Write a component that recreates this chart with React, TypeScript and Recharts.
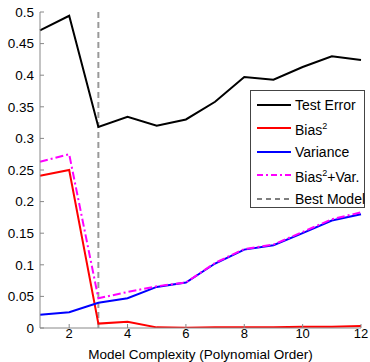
import React from 'react';
import { LineChart, Line, XAxis, YAxis, ReferenceLine } from 'recharts';

const orders = [1, 2, 3, 4, 5, 6, 7, 8, 9, 10, 11, 12];
const testError = [0.471, 0.494, 0.318, 0.334, 0.320, 0.330, 0.358, 0.397, 0.393, 0.413, 0.430, 0.424];
const bias2 = [0.241, 0.250, 0.007, 0.010, 0.001, 0.0005, 0.001, 0.001, 0.001, 0.002, 0.002, 0.003];
const variance = [0.021, 0.025, 0.040, 0.047, 0.065, 0.072, 0.102, 0.124, 0.131, 0.150, 0.170, 0.180];
const biasVar = [0.263, 0.275, 0.047, 0.057, 0.066, 0.072, 0.103, 0.125, 0.132, 0.152, 0.172, 0.183];
const bestModel = 3;
const xTicks = [2, 4, 6, 8, 10, 12];
const yTicks = [0, 0.05, 0.1, 0.15, 0.2, 0.25, 0.3, 0.35, 0.4, 0.45, 0.5];

const data = orders.map((o, i) => ({
  order: o,
  test: testError[i],
  bias: bias2[i],
  variance: variance[i],
  bv: biasVar[i],
}));

const FONT = '"Liberation Sans", Arial, sans-serif';

const XTick = (props: any) => {
  const { x, y, payload } = props;
  return (
    <g>
      <line x1={x} x2={x} y1={y - 1} y2={y - 5} stroke="#888" strokeWidth={1} />
      <text x={x} y={y} dy="0.71em" textAnchor="middle" fontSize={13} fill="#000" fontFamily={FONT}>
        {payload.value}
      </text>
    </g>
  );
};

const YTick = (props: any) => {
  const { x, y, payload } = props;
  const v = payload.value;
  const label = v === 0 ? '0' : String(Number(v.toFixed(2)));
  return (
    <g>
      <line x1={x + 6} x2={x + 10} y1={y} y2={y} stroke="#888" strokeWidth={1} />
      <text x={x} y={y} dy="0.35em" textAnchor="end" fontSize={13.5} fill="#000" fontFamily={FONT}>
        {label}
      </text>
    </g>
  );
};

const legendItems = [
  { key: 'test', color: '#000', dash: undefined, label: <>Test Error</> },
  { key: 'bias', color: '#ff0000', dash: undefined, label: <>Bias<sup style={{ fontSize: 9 }}>2</sup></> },
  { key: 'variance', color: '#0000ff', dash: undefined, label: <>Variance</> },
  { key: 'bv', color: '#ff00ff', dash: '6 3 2 3', label: <>Bias<sup style={{ fontSize: 9 }}>2</sup>+Var.</> },
  { key: 'best', color: '#000', dash: '5 4', label: <>Best Model</> },
];

const CustomLegend = () => (
  <div
    style={{
      position: 'absolute',
      left: 250,
      top: 90,
      width: 115,
      height: 118,
      border: '1px solid #444',
      background: '#fff',
      boxSizing: 'border-box',
      fontFamily: FONT,
      fontSize: 14,
      paddingTop: 2,
    }}
  >
    {legendItems.map((it) => (
      <div key={it.key} style={{ display: 'flex', alignItems: 'center', height: 23.5, lineHeight: '14px' }}>
        <svg width={44} height={10} style={{ flex: 'none' }}>
          <line x1={6} x2={40} y1={5} y2={5} stroke={it.color} strokeWidth={it.key === 'best' ? 1.2 : 2} strokeDasharray={it.dash} />
        </svg>
        <span style={{ whiteSpace: 'nowrap' }}>{it.label}</span>
      </div>
    ))}
  </div>
);

export default function App() {
  return (
    <div style={{ position: 'absolute', left: 0, top: 0, width: 370, height: 362, background: '#fff' }}>
      <LineChart width={370} height={362} data={data} margin={{ top: 12, right: 9, left: 0, bottom: 0 }}>
        <XAxis
          dataKey="order"
          type="number"
          domain={[1, 12]}
          ticks={xTicks}
          height={34}
          stroke="#888"
          tickLine={false}
          tickSize={0}
          tickMargin={1}
          tick={<XTick />}
          label={{ value: 'Model Complexity (Polynomial Order)', position: 'insideBottom', offset: 3, fontSize: 13.5, fill: '#000', fontFamily: FONT }}
        />
        <YAxis
          type="number"
          domain={[0, 0.5]}
          ticks={yTicks}
          width={40}
          stroke="#888"
          tickLine={false}
          tickSize={0}
          tickMargin={6}
          tick={<YTick />}
          allowDataOverflow
        />
        <ReferenceLine x={bestModel} stroke="#999" strokeWidth={2} strokeDasharray="6 4" ifOverflow="extendDomain" />
        <Line type="linear" dataKey="test" stroke="#000" strokeWidth={2} dot={false} isAnimationActive={false} />
        <Line type="linear" dataKey="bias" stroke="#ff0000" strokeWidth={2} dot={false} isAnimationActive={false} />
        <Line type="linear" dataKey="variance" stroke="#0000ff" strokeWidth={2} dot={false} isAnimationActive={false} />
        <Line type="linear" dataKey="bv" stroke="#ff00ff" strokeWidth={2} strokeDasharray="8 3 2 3" dot={false} isAnimationActive={false} />
      </LineChart>
      <CustomLegend />
    </div>
  );
}
